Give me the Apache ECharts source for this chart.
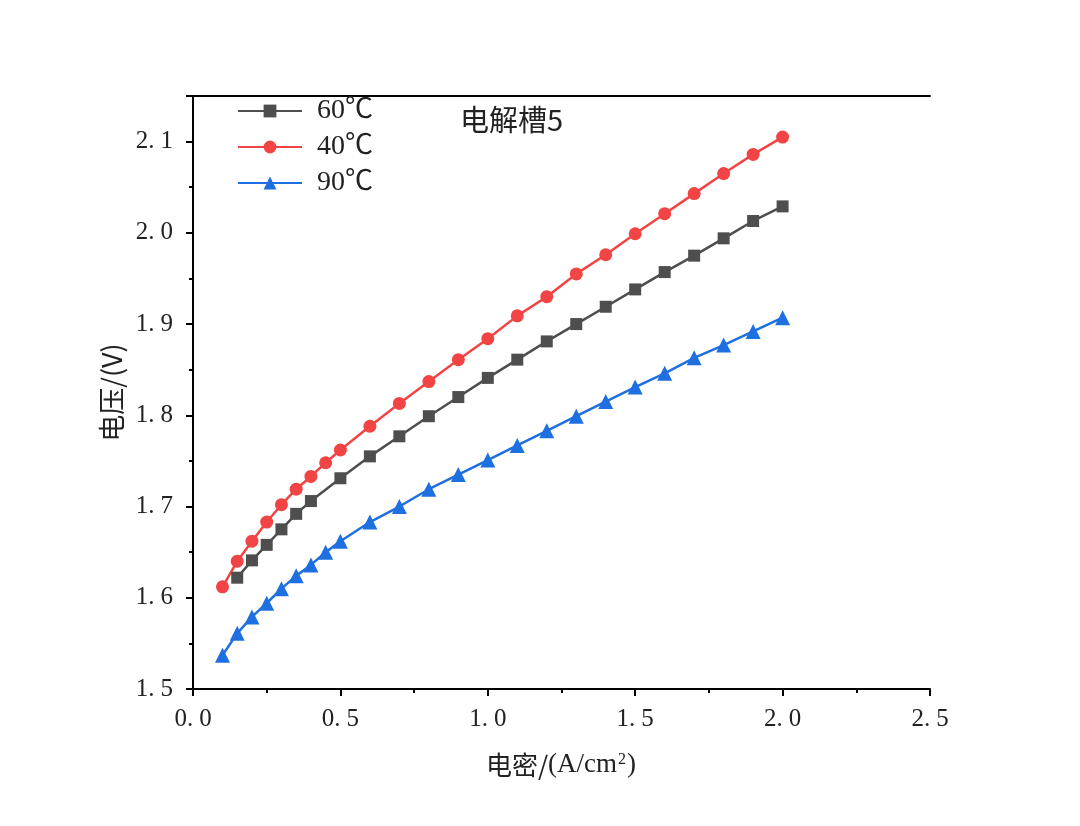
<!DOCTYPE html>
<html><head><meta charset="utf-8">
<script src="https://cdn.jsdelivr.net/npm/echarts@6/dist/echarts.min.js"></script>
<style>html,body{margin:0;padding:0;background:#fff}#c{width:1080px;height:826px}</style>
</head><body><div id="c"></div>
<script>
const x60 = [0.15,0.2,0.25,0.3,0.35,0.4,0.5,0.6,0.7,0.8,0.9,1.0,1.1,1.2,1.3,1.4,1.5,1.6,1.7,1.8,1.9,2.0];
const y60 = [1.622,1.641,1.658,1.675,1.692,1.706,1.731,1.755,1.777,1.799,1.820,1.841,1.861,1.881,1.900,1.919,1.938,1.957,1.975,1.994,2.013,2.029];
const x40 = [0.1,0.15,0.2,0.25,0.3,0.35,0.4,0.45,0.5,0.6,0.7,0.8,0.9,1.0,1.1,1.2,1.3,1.4,1.5,1.6,1.7,1.8,1.9,2.0];
const y40 = [1.612,1.640,1.662,1.683,1.702,1.719,1.733,1.748,1.762,1.788,1.813,1.837,1.861,1.884,1.909,1.930,1.955,1.976,1.999,2.021,2.043,2.065,2.086,2.105];
const x90 = [0.1,0.15,0.2,0.25,0.3,0.35,0.4,0.45,0.5,0.6,0.7,0.8,0.9,1.0,1.1,1.2,1.3,1.4,1.5,1.6,1.7,1.8,1.9,2.0];
const y90 = [1.537,1.561,1.579,1.594,1.610,1.624,1.636,1.650,1.662,1.683,1.700,1.719,1.735,1.751,1.767,1.783,1.799,1.815,1.831,1.846,1.863,1.877,1.892,1.907];
const names = ['60℃','40℃','90℃'];
const title = '电解槽5';
const xNameCJK = '电密/';
const xNameLat = '(A/cm';
const yName = '电压/(V)';

const zip = (a,b)=>a.map((v,i)=>[v,b[i]]);
const chart = echarts.init(document.getElementById('c'));
const serif = 'Liberation Serif';
const cjk = 'Noto Sans CJK SC';
const axisLine = {show:true, lineStyle:{color:'#000', width:2}};
const tickFmt = v => { const s = v.toFixed(1).split('.'); return '{d|'+s[0]+'}{p|.}{d|'+s[1]+'}'; };
const tickRich = {
  d:{fontFamily:serif, fontSize:25, color:'#222'},
  p:{fontFamily:serif, fontSize:25, color:'#222', padding:[0,6,0,0]}
};
chart.setOption({
  animation:false,
  backgroundColor:'#fff',
  title:{text:title, left:455, top:100, textStyle:{fontFamily:cjk, fontWeight:'normal', fontSize:29, color:'#222'}},
  legend:{
    orient:'vertical', left:237, top:97, padding:0, itemWidth:64, itemHeight:16, itemGap:8,
    textStyle:{fontFamily:serif+','+cjk, fontSize:28, lineHeight:28, color:'#222', padding:[0,0,0,10]},
    data:names
  },
  grid:{left:193, right:150, top:96, bottom:137, show:false},
  xAxis:[{
    type:'value', min:0, max:2.5, interval:0.5,
    axisLine:axisLine, axisTick:{show:true, length:7, inside:false, lineStyle:{color:'#000', width:2}},
    minorTick:{show:true, splitNumber:2, length:4, lineStyle:{color:'#000', width:2}},
    splitLine:{show:false},
    axisLabel:{margin:18, formatter:tickFmt, rich:tickRich}
  },{
    type:'value', position:'top', min:0, max:2.5, axisLine:axisLine, axisTick:{show:false}, axisLabel:{show:false}, splitLine:{show:false}
  }],
  yAxis:[{
    type:'value', min:1.5, max:2.15, interval:0.1,
    axisLine:axisLine, axisTick:{show:true, length:7, lineStyle:{color:'#000', width:2}},
    minorTick:{show:true, splitNumber:2, length:4, lineStyle:{color:'#000', width:2}},
    splitLine:{show:false},
    axisLabel:{margin:20, formatter:tickFmt, rich:tickRich, showMaxLabel:false},
    name:yName, nameLocation:'middle', nameGap:62, nameRotate:90,
    nameTextStyle:{fontFamily:cjk, fontSize:27, color:'#222'}
  },{
    type:'value', position:'right', min:1.5, max:2.15, axisLine:axisLine, axisTick:{show:false}, axisLabel:{show:false}, splitLine:{show:false}
  }],
  graphic:[{
    type:'text', x:561, y:765,
    style:{
      text:'{a|'+xNameCJK+'}{b|'+xNameLat+'}{s|2}{b|)}',
      align:'center', verticalAlign:'middle',
      rich:{
        a:{fontFamily:cjk, fontSize:26, fill:'#222', color:'#222'},
        b:{fontFamily:serif, fontSize:27, fill:'#222', color:'#222'},
        s:{fontFamily:serif, fontSize:16, fill:'#222', color:'#222', verticalAlign:'top', lineHeight:16, padding:[0,1,20,1]}
      }
    }
  }],
  series:[
    {name:names[0], type:'line', data:zip(x60,y60), symbol:'rect', symbolSize:12,
      itemStyle:{color:'#4e4e4e'}, lineStyle:{color:'#4e4e4e', width:2.5}},
    {name:names[1], type:'line', data:zip(x40,y40), symbol:'circle', symbolSize:13,
      itemStyle:{color:'#f24444'}, lineStyle:{color:'#f24444', width:2.5}},
    {name:names[2], type:'line', data:zip(x90,y90), symbol:'triangle', symbolSize:15,
      itemStyle:{color:'#1e6fdf'}, lineStyle:{color:'#1e6fdf', width:2.5}}
  ]
});
</script></body></html>
